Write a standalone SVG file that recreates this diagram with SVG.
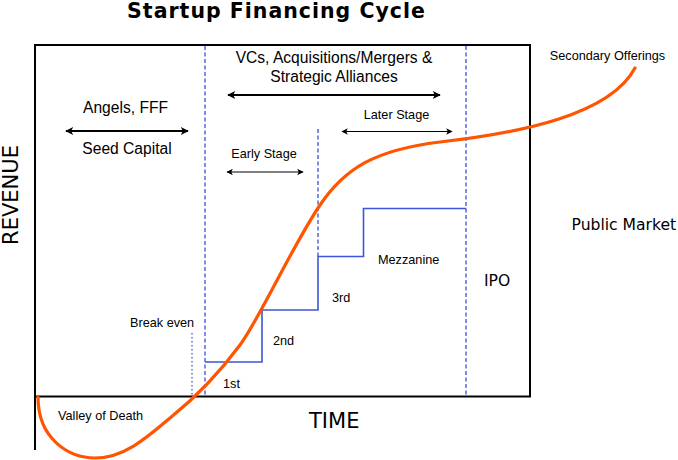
<svg xmlns="http://www.w3.org/2000/svg" width="678" height="460" viewBox="0 0 678 460">
<defs>
<style>
.frame{fill:none;stroke:#000;stroke-width:2}
.dash{fill:none;stroke:#3b4fe0;stroke-width:1.3;stroke-dasharray:4,2.5}
.dot{fill:none;stroke:#3b4fe0;stroke-width:1.3;stroke-dasharray:1.5,2.5}
.step{fill:none;stroke:#3b56d8;stroke-width:1.6}
.curve{fill:none;stroke:#ff5500;stroke-width:3.2;stroke-linecap:round}
.arr{fill:none;stroke:#000;stroke-width:2;marker-start:url(#ah);marker-end:url(#ah)}
.arrs{fill:none;stroke:#000;stroke-width:1.2;marker-start:url(#ahs);marker-end:url(#ahs)}
.t{font-family:"Liberation Sans",Arial,sans-serif;fill:#000}
.s{font-family:"Liberation Sans",Arial,sans-serif;fill:#000;font-size:12.7px}
.d{font-family:"DejaVu Sans",Verdana,sans-serif;fill:#000}
</style>
<marker id="ah" viewBox="0 0 10 10" refX="9" refY="5" markerWidth="11" markerHeight="8" orient="auto-start-reverse" markerUnits="userSpaceOnUse"><path d="M0,0 L10,5 L0,10 L2.5,5 z" fill="#000"/></marker>
<marker id="ahs" viewBox="0 0 10 10" refX="9" refY="5" markerWidth="8.5" markerHeight="6.5" orient="auto-start-reverse" markerUnits="userSpaceOnUse"><path d="M0,0 L10,5 L0,10 L2.5,5 z" fill="#000"/></marker>
</defs>
<rect width="678" height="460" fill="#fff"/>
<text class="d" x="276.5" y="18" font-size="20.5" font-weight="bold" letter-spacing="1" text-anchor="middle">Startup Financing Cycle</text>
<g id="frame">
<path class="frame" d="M35,450 V45 H530 V396.5 H35"/>
</g>
<g id="dividers">
<line class="dash" x1="205" y1="46" x2="205" y2="396"/>
<line class="dash" x1="318" y1="129" x2="318" y2="256"/>
<line class="dash" x1="466" y1="46" x2="466" y2="396"/>
<line class="dot" x1="192" y1="333" x2="192" y2="396"/>
</g>
<g id="steps">
<path class="step" d="M205,362 H262 V310 H318 V256.5 H363.5 V208.5 H466"/>
</g>
<g id="connectors">
<line class="arr" x1="228" y1="95" x2="440" y2="95"/>
<line class="arr" x1="66" y1="131" x2="188" y2="131"/>
<line class="arrs" x1="227" y1="172" x2="303" y2="172"/>
<line class="arrs" x1="342" y1="131.5" x2="452" y2="131.5"/>
</g>
<g id="revenue-curve">
<path class="curve" d="M38,397 C38,440 70,458 95,458 C125,458 150,435 170,418 C195,398 220,372 240,345 C260,318 290,250 320,205 C345,168 375,150 440,142 C520,133 610,115 635,68"/>
</g>
<g id="labels">
<text class="t" x="334" y="63" font-size="15.6" text-anchor="middle">VCs, Acquisitions/Mergers &amp;</text>
<text class="t" x="334" y="82" font-size="15.6" text-anchor="middle">Strategic Alliances</text>
<text class="t" x="125.5" y="113" font-size="15.6" text-anchor="middle">Angels, FFF</text>
<text class="t" x="127" y="154" font-size="15.6" text-anchor="middle">Seed Capital</text>
<text class="s" x="264" y="158" text-anchor="middle">Early Stage</text>
<text class="s" x="396.5" y="119" text-anchor="middle">Later Stage</text>
<text class="s" x="607.5" y="60" text-anchor="middle">Secondary Offerings</text>
<text class="d" x="571.5" y="230" font-size="15.6">Public Market</text>
<text class="s" x="378" y="264">Mezzanine</text>
<text class="d" x="484" y="285.5" font-size="15.6">IPO</text>
<text class="s" x="332" y="301.5">3rd</text>
<text class="s" x="273" y="345">2nd</text>
<text class="s" x="223" y="388">1st</text>
<text class="s" x="130" y="327">Break even</text>
<text class="s" x="58" y="419.5">Valley of Death</text>
<text class="d" x="309" y="428" font-size="21">TIME</text>
<text class="d" x="17.5" y="195" font-size="21" text-anchor="middle" transform="rotate(-90 17.5 195)">REVENUE</text>
</g>
</svg>
